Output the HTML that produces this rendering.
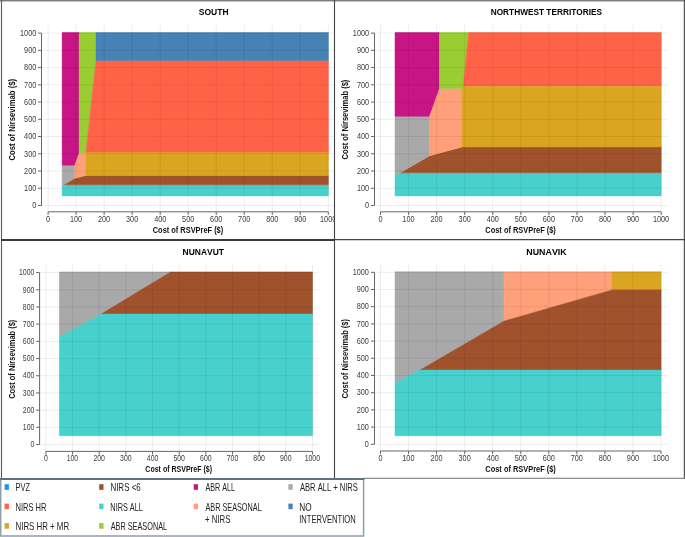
<!DOCTYPE html>
<html><head><meta charset="utf-8"><style>
html,body{margin:0;padding:0;background:#fff;width:685px;height:537px;overflow:hidden}
svg{display:block;filter:blur(0.45px);font-family:"Liberation Sans", sans-serif;font-kerning:none}
</style></head><body>
<svg width="685" height="537" viewBox="0 0 685 537" font-family='"Liberation Sans", sans-serif'>
<rect width="685" height="537" fill="#fff"/>
<defs><clipPath id="c0"><rect x="1.5" y="0.5" width="332.5" height="239.0"/></clipPath><clipPath id="c1"><rect x="335" y="0.5" width="349" height="239.0"/></clipPath><clipPath id="c2"><rect x="1.5" y="240.5" width="332.5" height="237.5"/></clipPath><clipPath id="c3"><rect x="335" y="240.5" width="349" height="237.5"/></clipPath></defs>
<g clip-path="url(#c0)">
<polygon points="62.1,184.8 328.4,184.8 328.4,195.9 62.1,195.9" fill="#48D1CC" stroke="#48D1CC" stroke-width="0.5"/>
<polygon points="63.6,184.8 74.8,178.3 86,175.4 328.4,175.4 328.4,184.8" fill="#A0522D" stroke="#A0522D" stroke-width="0.5"/>
<polygon points="62.1,184.8 63.6,184.8 74.8,178.3 74.8,165.2 62.1,165.2" fill="#A9A9A9" stroke="#A9A9A9" stroke-width="0.5"/>
<polygon points="62.1,32.5 79.2,32.5 79.2,153 74.8,165.2 62.1,165.2" fill="#C71585" stroke="#C71585" stroke-width="0.5"/>
<polygon points="79.2,152.7 86,152.7 86,175.4 74.8,178.3 74.8,165.2 79.2,153" fill="#FFA07A" stroke="#FFA07A" stroke-width="0.5"/>
<polygon points="79.2,32.5 96,32.5 96,60.6 85.9,152.7 79.2,152.7" fill="#9ACD32" stroke="#9ACD32" stroke-width="0.5"/>
<polygon points="96,60.6 328.4,60.6 328.4,152.7 85.9,152.7" fill="#FF6347" stroke="#FF6347" stroke-width="0.5"/>
<polygon points="86,152.7 328.4,152.7 328.4,175.4 86,175.4" fill="#DAA520" stroke="#DAA520" stroke-width="0.5"/>
<polygon points="96,32.5 328.4,32.5 328.4,60.6 96,60.6" fill="#4682B4" stroke="#4682B4" stroke-width="0.5"/>
<path d="M48.1 25V211.8M41.5 205.5H334M76.12 25V211.8M41.5 188.26H334M104.14 25V211.8M41.5 171.02H334M132.16 25V211.8M41.5 153.78H334M160.18 25V211.8M41.5 136.54H334M188.2 25V211.8M41.5 119.3H334M216.22 25V211.8M41.5 102.06H334M244.24 25V211.8M41.5 84.82H334M272.26 25V211.8M41.5 67.58H334M300.28 25V211.8M41.5 50.34H334M328.3 25V211.8M41.5 33.1H334" stroke="rgba(0,0,0,0.07)" stroke-width="1" fill="none"/>
<path d="M41.5 33.1V205.5M48.1 211.8H328.3M38 205.5H41.5M48.1 211.8V215M38 188.26H41.5M76.12 211.8V215M38 171.02H41.5M104.14 211.8V215M38 153.78H41.5M132.16 211.8V215M38 136.54H41.5M160.18 211.8V215M38 119.3H41.5M188.2 211.8V215M38 102.06H41.5M216.22 211.8V215M38 84.82H41.5M244.24 211.8V215M38 67.58H41.5M272.26 211.8V215M38 50.34H41.5M300.28 211.8V215M38 33.1H41.5M328.3 211.8V215" stroke="#666" stroke-width="1" fill="none"/>
<text x="32.22" y="208.23" font-size="8.8" fill="#3d3d3d" textLength="4.06" lengthAdjust="spacingAndGlyphs">0</text>
<text x="46.07" y="222.1" font-size="8.8" fill="#3d3d3d" textLength="4.06" lengthAdjust="spacingAndGlyphs">0</text>
<text x="24.1" y="190.99" font-size="8.8" fill="#3d3d3d" textLength="12.19" lengthAdjust="spacingAndGlyphs">100</text>
<text x="69.89" y="222.1" font-size="8.8" fill="#3d3d3d" textLength="12.19" lengthAdjust="spacingAndGlyphs">100</text>
<text x="24.1" y="173.75" font-size="8.8" fill="#3d3d3d" textLength="12.19" lengthAdjust="spacingAndGlyphs">200</text>
<text x="98.01" y="222.1" font-size="8.8" fill="#3d3d3d" textLength="12.19" lengthAdjust="spacingAndGlyphs">200</text>
<text x="24.1" y="156.51" font-size="8.8" fill="#3d3d3d" textLength="12.19" lengthAdjust="spacingAndGlyphs">300</text>
<text x="126.07" y="222.1" font-size="8.8" fill="#3d3d3d" textLength="12.19" lengthAdjust="spacingAndGlyphs">300</text>
<text x="24.1" y="139.27" font-size="8.8" fill="#3d3d3d" textLength="12.19" lengthAdjust="spacingAndGlyphs">400</text>
<text x="154.15" y="222.1" font-size="8.8" fill="#3d3d3d" textLength="12.19" lengthAdjust="spacingAndGlyphs">400</text>
<text x="24.1" y="122.03" font-size="8.8" fill="#3d3d3d" textLength="12.19" lengthAdjust="spacingAndGlyphs">500</text>
<text x="182.1" y="222.1" font-size="8.8" fill="#3d3d3d" textLength="12.19" lengthAdjust="spacingAndGlyphs">500</text>
<text x="24.1" y="104.79" font-size="8.8" fill="#3d3d3d" textLength="12.19" lengthAdjust="spacingAndGlyphs">600</text>
<text x="210.08" y="222.1" font-size="8.8" fill="#3d3d3d" textLength="12.19" lengthAdjust="spacingAndGlyphs">600</text>
<text x="24.1" y="87.55" font-size="8.8" fill="#3d3d3d" textLength="12.19" lengthAdjust="spacingAndGlyphs">700</text>
<text x="238.1" y="222.1" font-size="8.8" fill="#3d3d3d" textLength="12.19" lengthAdjust="spacingAndGlyphs">700</text>
<text x="24.1" y="70.31" font-size="8.8" fill="#3d3d3d" textLength="12.19" lengthAdjust="spacingAndGlyphs">800</text>
<text x="266.15" y="222.1" font-size="8.8" fill="#3d3d3d" textLength="12.19" lengthAdjust="spacingAndGlyphs">800</text>
<text x="24.1" y="53.07" font-size="8.8" fill="#3d3d3d" textLength="12.19" lengthAdjust="spacingAndGlyphs">900</text>
<text x="294.16" y="222.1" font-size="8.8" fill="#3d3d3d" textLength="12.19" lengthAdjust="spacingAndGlyphs">900</text>
<text x="20.04" y="35.83" font-size="8.8" fill="#3d3d3d" textLength="16.25" lengthAdjust="spacingAndGlyphs">1000</text>
<text x="320.04" y="222.1" font-size="8.8" fill="#3d3d3d" textLength="16.25" lengthAdjust="spacingAndGlyphs">1000</text>
<text x="198.81" y="15.4" font-size="9.4" font-weight="bold" fill="#000" textLength="29.72" lengthAdjust="spacingAndGlyphs">SOUTH</text>
<text x="152.75" y="233" font-size="8.2" font-weight="bold" fill="#111" textLength="70.47" lengthAdjust="spacingAndGlyphs">Cost of RSVPreF ($)</text>
<text transform="translate(15.2 160.15) rotate(-90)" x="-0.31" y="0" font-size="8.2" font-weight="bold" fill="#111" textLength="81.5" lengthAdjust="spacingAndGlyphs">Cost of Nirsevimab ($)</text>
</g>
<g clip-path="url(#c1)">
<polygon points="395,175.1 400.1,172.8 661.2,172.8 661.2,195.9 395,195.9" fill="#48D1CC" stroke="#48D1CC" stroke-width="0.5"/>
<polygon points="400.1,172.8 429.7,155.7 462.1,146.9 661.2,146.9 661.2,172.8" fill="#A0522D" stroke="#A0522D" stroke-width="0.5"/>
<polygon points="395,175.1 400.1,172.8 429.7,155.7 429.7,116.3 395,116.3" fill="#A9A9A9" stroke="#A9A9A9" stroke-width="0.5"/>
<polygon points="395,32.5 439.5,32.5 439.5,88.6 429.7,116.3 395,116.3" fill="#C71585" stroke="#C71585" stroke-width="0.5"/>
<polygon points="439.5,88.6 462.1,88.6 462.1,146.9 429.7,155.7 429.7,116.3" fill="#FFA07A" stroke="#FFA07A" stroke-width="0.5"/>
<polygon points="439.5,32.5 468.8,32.5 463.2,86.5 462.3,88.6 439.5,88.6" fill="#9ACD32" stroke="#9ACD32" stroke-width="0.5"/>
<polygon points="468.8,32.5 661.2,32.5 661.2,86.5 463.2,86.5" fill="#FF6347" stroke="#FF6347" stroke-width="0.5"/>
<polygon points="462.1,86.5 661.2,86.5 661.2,146.9 462.1,146.9" fill="#DAA520" stroke="#DAA520" stroke-width="0.5"/>
<path d="M380.5 25V211.8M374.5 205.5H667.6M408.57 25V211.8M374.5 188.26H667.6M436.64 25V211.8M374.5 171.02H667.6M464.71 25V211.8M374.5 153.78H667.6M492.78 25V211.8M374.5 136.54H667.6M520.85 25V211.8M374.5 119.3H667.6M548.92 25V211.8M374.5 102.06H667.6M576.99 25V211.8M374.5 84.82H667.6M605.06 25V211.8M374.5 67.58H667.6M633.13 25V211.8M374.5 50.34H667.6M661.2 25V211.8M374.5 33.1H667.6" stroke="rgba(0,0,0,0.07)" stroke-width="1" fill="none"/>
<path d="M374.5 33.1V205.5M380.5 211.8H661.2M371 205.5H374.5M380.5 211.8V215M371 188.26H374.5M408.57 211.8V215M371 171.02H374.5M436.64 211.8V215M371 153.78H374.5M464.71 211.8V215M371 136.54H374.5M492.78 211.8V215M371 119.3H374.5M520.85 211.8V215M371 102.06H374.5M548.92 211.8V215M371 84.82H374.5M576.99 211.8V215M371 67.58H374.5M605.06 211.8V215M371 50.34H374.5M633.13 211.8V215M371 33.1H374.5M661.2 211.8V215" stroke="#666" stroke-width="1" fill="none"/>
<text x="365.02" y="208.23" font-size="8.8" fill="#3d3d3d" textLength="4.06" lengthAdjust="spacingAndGlyphs">0</text>
<text x="378.47" y="222.1" font-size="8.8" fill="#3d3d3d" textLength="4.06" lengthAdjust="spacingAndGlyphs">0</text>
<text x="356.9" y="190.99" font-size="8.8" fill="#3d3d3d" textLength="12.19" lengthAdjust="spacingAndGlyphs">100</text>
<text x="402.34" y="222.1" font-size="8.8" fill="#3d3d3d" textLength="12.19" lengthAdjust="spacingAndGlyphs">100</text>
<text x="356.9" y="173.75" font-size="8.8" fill="#3d3d3d" textLength="12.19" lengthAdjust="spacingAndGlyphs">200</text>
<text x="430.51" y="222.1" font-size="8.8" fill="#3d3d3d" textLength="12.19" lengthAdjust="spacingAndGlyphs">200</text>
<text x="356.9" y="156.51" font-size="8.8" fill="#3d3d3d" textLength="12.19" lengthAdjust="spacingAndGlyphs">300</text>
<text x="458.62" y="222.1" font-size="8.8" fill="#3d3d3d" textLength="12.19" lengthAdjust="spacingAndGlyphs">300</text>
<text x="356.9" y="139.27" font-size="8.8" fill="#3d3d3d" textLength="12.19" lengthAdjust="spacingAndGlyphs">400</text>
<text x="486.75" y="222.1" font-size="8.8" fill="#3d3d3d" textLength="12.19" lengthAdjust="spacingAndGlyphs">400</text>
<text x="356.9" y="122.03" font-size="8.8" fill="#3d3d3d" textLength="12.19" lengthAdjust="spacingAndGlyphs">500</text>
<text x="514.75" y="222.1" font-size="8.8" fill="#3d3d3d" textLength="12.19" lengthAdjust="spacingAndGlyphs">500</text>
<text x="356.9" y="104.79" font-size="8.8" fill="#3d3d3d" textLength="12.19" lengthAdjust="spacingAndGlyphs">600</text>
<text x="542.78" y="222.1" font-size="8.8" fill="#3d3d3d" textLength="12.19" lengthAdjust="spacingAndGlyphs">600</text>
<text x="356.9" y="87.55" font-size="8.8" fill="#3d3d3d" textLength="12.19" lengthAdjust="spacingAndGlyphs">700</text>
<text x="570.85" y="222.1" font-size="8.8" fill="#3d3d3d" textLength="12.19" lengthAdjust="spacingAndGlyphs">700</text>
<text x="356.9" y="70.31" font-size="8.8" fill="#3d3d3d" textLength="12.19" lengthAdjust="spacingAndGlyphs">800</text>
<text x="598.95" y="222.1" font-size="8.8" fill="#3d3d3d" textLength="12.19" lengthAdjust="spacingAndGlyphs">800</text>
<text x="356.9" y="53.07" font-size="8.8" fill="#3d3d3d" textLength="12.19" lengthAdjust="spacingAndGlyphs">900</text>
<text x="627.01" y="222.1" font-size="8.8" fill="#3d3d3d" textLength="12.19" lengthAdjust="spacingAndGlyphs">900</text>
<text x="352.84" y="35.83" font-size="8.8" fill="#3d3d3d" textLength="16.25" lengthAdjust="spacingAndGlyphs">1000</text>
<text x="652.94" y="222.1" font-size="8.8" fill="#3d3d3d" textLength="16.25" lengthAdjust="spacingAndGlyphs">1000</text>
<text x="490.7" y="15.4" font-size="9.4" font-weight="bold" fill="#000" textLength="111.38" lengthAdjust="spacingAndGlyphs">NORTHWEST TERRITORIES</text>
<text x="485.35" y="233" font-size="8.2" font-weight="bold" fill="#111" textLength="70.47" lengthAdjust="spacingAndGlyphs">Cost of RSVPreF ($)</text>
<text transform="translate(348 159.25) rotate(-90)" x="-0.31" y="0" font-size="8.2" font-weight="bold" fill="#111" textLength="79.88" lengthAdjust="spacingAndGlyphs">Cost of Nirsevimab ($)</text>
</g>
<g clip-path="url(#c2)">
<polygon points="59.3,271.9 170.6,271.9 101.1,314.1 59.3,337.2" fill="#A9A9A9" stroke="#A9A9A9" stroke-width="0.5"/>
<polygon points="170.6,271.9 312.5,271.9 312.5,314.1 101.1,314.1" fill="#A0522D" stroke="#A0522D" stroke-width="0.5"/>
<polygon points="59.3,337.2 101.1,314.1 312.5,314.1 312.5,435.7 59.3,435.7" fill="#48D1CC" stroke="#48D1CC" stroke-width="0.5"/>
<path d="M45.9 265V451.4M39.6 444.5H318.5M72.56 265V451.4M39.6 427.31H318.5M99.22 265V451.4M39.6 410.12H318.5M125.88 265V451.4M39.6 392.93H318.5M152.54 265V451.4M39.6 375.74H318.5M179.2 265V451.4M39.6 358.55H318.5M205.86 265V451.4M39.6 341.36H318.5M232.52 265V451.4M39.6 324.17H318.5M259.18 265V451.4M39.6 306.98H318.5M285.84 265V451.4M39.6 289.79H318.5M312.5 265V451.4M39.6 272.6H318.5" stroke="rgba(0,0,0,0.07)" stroke-width="1" fill="none"/>
<path d="M39.6 272.6V444.5M45.9 451.4H312.5M36.1 444.5H39.6M45.9 451.4V454.6M36.1 427.31H39.6M72.56 451.4V454.6M36.1 410.12H39.6M99.22 451.4V454.6M36.1 392.93H39.6M125.88 451.4V454.6M36.1 375.74H39.6M152.54 451.4V454.6M36.1 358.55H39.6M179.2 451.4V454.6M36.1 341.36H39.6M205.86 451.4V454.6M36.1 324.17H39.6M232.52 451.4V454.6M36.1 306.98H39.6M259.18 451.4V454.6M36.1 289.79H39.6M285.84 451.4V454.6M36.1 272.6H39.6M312.5 451.4V454.6" stroke="#666" stroke-width="1" fill="none"/>
<text x="30.61" y="447.23" font-size="8.8" fill="#3d3d3d" textLength="3.87" lengthAdjust="spacingAndGlyphs">0</text>
<text x="43.97" y="461.4" font-size="8.8" fill="#3d3d3d" textLength="3.87" lengthAdjust="spacingAndGlyphs">0</text>
<text x="22.87" y="430.04" font-size="8.8" fill="#3d3d3d" textLength="11.6" lengthAdjust="spacingAndGlyphs">100</text>
<text x="66.63" y="461.4" font-size="8.8" fill="#3d3d3d" textLength="11.6" lengthAdjust="spacingAndGlyphs">100</text>
<text x="22.87" y="412.85" font-size="8.8" fill="#3d3d3d" textLength="11.6" lengthAdjust="spacingAndGlyphs">200</text>
<text x="93.38" y="461.4" font-size="8.8" fill="#3d3d3d" textLength="11.6" lengthAdjust="spacingAndGlyphs">200</text>
<text x="22.87" y="395.66" font-size="8.8" fill="#3d3d3d" textLength="11.6" lengthAdjust="spacingAndGlyphs">300</text>
<text x="120.08" y="461.4" font-size="8.8" fill="#3d3d3d" textLength="11.6" lengthAdjust="spacingAndGlyphs">300</text>
<text x="22.87" y="378.47" font-size="8.8" fill="#3d3d3d" textLength="11.6" lengthAdjust="spacingAndGlyphs">400</text>
<text x="146.8" y="461.4" font-size="8.8" fill="#3d3d3d" textLength="11.6" lengthAdjust="spacingAndGlyphs">400</text>
<text x="22.87" y="361.28" font-size="8.8" fill="#3d3d3d" textLength="11.6" lengthAdjust="spacingAndGlyphs">500</text>
<text x="173.4" y="461.4" font-size="8.8" fill="#3d3d3d" textLength="11.6" lengthAdjust="spacingAndGlyphs">500</text>
<text x="22.87" y="344.09" font-size="8.8" fill="#3d3d3d" textLength="11.6" lengthAdjust="spacingAndGlyphs">600</text>
<text x="200.02" y="461.4" font-size="8.8" fill="#3d3d3d" textLength="11.6" lengthAdjust="spacingAndGlyphs">600</text>
<text x="22.87" y="326.9" font-size="8.8" fill="#3d3d3d" textLength="11.6" lengthAdjust="spacingAndGlyphs">700</text>
<text x="226.68" y="461.4" font-size="8.8" fill="#3d3d3d" textLength="11.6" lengthAdjust="spacingAndGlyphs">700</text>
<text x="22.87" y="309.71" font-size="8.8" fill="#3d3d3d" textLength="11.6" lengthAdjust="spacingAndGlyphs">800</text>
<text x="253.37" y="461.4" font-size="8.8" fill="#3d3d3d" textLength="11.6" lengthAdjust="spacingAndGlyphs">800</text>
<text x="22.87" y="292.52" font-size="8.8" fill="#3d3d3d" textLength="11.6" lengthAdjust="spacingAndGlyphs">900</text>
<text x="280.01" y="461.4" font-size="8.8" fill="#3d3d3d" textLength="11.6" lengthAdjust="spacingAndGlyphs">900</text>
<text x="19.01" y="275.33" font-size="8.8" fill="#3d3d3d" textLength="15.47" lengthAdjust="spacingAndGlyphs">1000</text>
<text x="304.64" y="461.4" font-size="8.8" fill="#3d3d3d" textLength="15.47" lengthAdjust="spacingAndGlyphs">1000</text>
<text x="182.58" y="255" font-size="9.4" font-weight="bold" fill="#000" textLength="41.46" lengthAdjust="spacingAndGlyphs">NUNAVUT</text>
<text x="145.36" y="472.2" font-size="8.2" font-weight="bold" fill="#111" textLength="66.64" lengthAdjust="spacingAndGlyphs">Cost of RSVPreF ($)</text>
<text transform="translate(15 398.55) rotate(-90)" x="-0.31" y="0" font-size="8.2" font-weight="bold" fill="#111" textLength="79.18" lengthAdjust="spacingAndGlyphs">Cost of Nirsevimab ($)</text>
</g>
<g clip-path="url(#c3)">
<polygon points="395,271.8 504.1,271.8 504.1,321.1 420,370.1 395,382.9" fill="#A9A9A9" stroke="#A9A9A9" stroke-width="0.5"/>
<polygon points="504.1,271.8 612,271.8 612,290 504.1,321.1" fill="#FFA07A" stroke="#FFA07A" stroke-width="0.5"/>
<polygon points="612,271.8 661.1,271.8 661.1,290 612,290" fill="#DAA520" stroke="#DAA520" stroke-width="0.5"/>
<polygon points="420,370.1 504.1,321.1 612,290 661.1,290 661.1,370.1" fill="#A0522D" stroke="#A0522D" stroke-width="0.5"/>
<polygon points="395,382.9 420,370.1 661.1,370.1 661.1,435.7 395,435.7" fill="#48D1CC" stroke="#48D1CC" stroke-width="0.5"/>
<path d="M380.5 265V451M374.5 444.3H667.6M408.55 265V451M374.5 427.1H667.6M436.6 265V451M374.5 409.9H667.6M464.65 265V451M374.5 392.7H667.6M492.7 265V451M374.5 375.5H667.6M520.75 265V451M374.5 358.3H667.6M548.8 265V451M374.5 341.1H667.6M576.85 265V451M374.5 323.9H667.6M604.9 265V451M374.5 306.7H667.6M632.95 265V451M374.5 289.5H667.6M661 265V451M374.5 272.3H667.6" stroke="rgba(0,0,0,0.07)" stroke-width="1" fill="none"/>
<path d="M374.5 272.3V444.3M380.5 451H661M371 444.3H374.5M380.5 451V454.2M371 427.1H374.5M408.55 451V454.2M371 409.9H374.5M436.6 451V454.2M371 392.7H374.5M464.65 451V454.2M371 375.5H374.5M492.7 451V454.2M371 358.3H374.5M520.75 451V454.2M371 341.1H374.5M548.8 451V454.2M371 323.9H374.5M576.85 451V454.2M371 306.7H374.5M604.9 451V454.2M371 289.5H374.5M632.95 451V454.2M371 272.3H374.5M661 451V454.2" stroke="#666" stroke-width="1" fill="none"/>
<text x="364.82" y="447.03" font-size="8.8" fill="#3d3d3d" textLength="4.06" lengthAdjust="spacingAndGlyphs">0</text>
<text x="378.47" y="461.4" font-size="8.8" fill="#3d3d3d" textLength="4.06" lengthAdjust="spacingAndGlyphs">0</text>
<text x="356.7" y="429.83" font-size="8.8" fill="#3d3d3d" textLength="12.19" lengthAdjust="spacingAndGlyphs">100</text>
<text x="402.32" y="461.4" font-size="8.8" fill="#3d3d3d" textLength="12.19" lengthAdjust="spacingAndGlyphs">100</text>
<text x="356.7" y="412.63" font-size="8.8" fill="#3d3d3d" textLength="12.19" lengthAdjust="spacingAndGlyphs">200</text>
<text x="430.47" y="461.4" font-size="8.8" fill="#3d3d3d" textLength="12.19" lengthAdjust="spacingAndGlyphs">200</text>
<text x="356.7" y="395.43" font-size="8.8" fill="#3d3d3d" textLength="12.19" lengthAdjust="spacingAndGlyphs">300</text>
<text x="458.56" y="461.4" font-size="8.8" fill="#3d3d3d" textLength="12.19" lengthAdjust="spacingAndGlyphs">300</text>
<text x="356.7" y="378.23" font-size="8.8" fill="#3d3d3d" textLength="12.19" lengthAdjust="spacingAndGlyphs">400</text>
<text x="486.67" y="461.4" font-size="8.8" fill="#3d3d3d" textLength="12.19" lengthAdjust="spacingAndGlyphs">400</text>
<text x="356.7" y="361.03" font-size="8.8" fill="#3d3d3d" textLength="12.19" lengthAdjust="spacingAndGlyphs">500</text>
<text x="514.65" y="461.4" font-size="8.8" fill="#3d3d3d" textLength="12.19" lengthAdjust="spacingAndGlyphs">500</text>
<text x="356.7" y="343.83" font-size="8.8" fill="#3d3d3d" textLength="12.19" lengthAdjust="spacingAndGlyphs">600</text>
<text x="542.66" y="461.4" font-size="8.8" fill="#3d3d3d" textLength="12.19" lengthAdjust="spacingAndGlyphs">600</text>
<text x="356.7" y="326.63" font-size="8.8" fill="#3d3d3d" textLength="12.19" lengthAdjust="spacingAndGlyphs">700</text>
<text x="570.71" y="461.4" font-size="8.8" fill="#3d3d3d" textLength="12.19" lengthAdjust="spacingAndGlyphs">700</text>
<text x="356.7" y="309.43" font-size="8.8" fill="#3d3d3d" textLength="12.19" lengthAdjust="spacingAndGlyphs">800</text>
<text x="598.79" y="461.4" font-size="8.8" fill="#3d3d3d" textLength="12.19" lengthAdjust="spacingAndGlyphs">800</text>
<text x="356.7" y="292.23" font-size="8.8" fill="#3d3d3d" textLength="12.19" lengthAdjust="spacingAndGlyphs">900</text>
<text x="626.83" y="461.4" font-size="8.8" fill="#3d3d3d" textLength="12.19" lengthAdjust="spacingAndGlyphs">900</text>
<text x="352.64" y="275.03" font-size="8.8" fill="#3d3d3d" textLength="16.25" lengthAdjust="spacingAndGlyphs">1000</text>
<text x="652.74" y="461.4" font-size="8.8" fill="#3d3d3d" textLength="16.25" lengthAdjust="spacingAndGlyphs">1000</text>
<text x="526.36" y="254.8" font-size="9.4" font-weight="bold" fill="#000" textLength="40.27" lengthAdjust="spacingAndGlyphs">NUNAVIK</text>
<text x="485.35" y="472.1" font-size="8.2" font-weight="bold" fill="#111" textLength="70.47" lengthAdjust="spacingAndGlyphs">Cost of RSVPreF ($)</text>
<text transform="translate(348 398.15) rotate(-90)" x="-0.31" y="0" font-size="8.2" font-weight="bold" fill="#111" textLength="79.48" lengthAdjust="spacingAndGlyphs">Cost of Nirsevimab ($)</text>
</g>
<path d="M0 0.7H685" stroke="#808080" stroke-width="1.4"/>
<path d="M1.5 0V479" stroke="#5a5a5a" stroke-width="1.1"/>
<path d="M684.4 0V479" stroke="#555" stroke-width="1.2"/>
<path d="M334.5 0V479" stroke="#444" stroke-width="1.1"/>
<path d="M1 240H334.5" stroke="#3a3a3a" stroke-width="2"/>
<path d="M334.5 239.7H685" stroke="#444" stroke-width="1.3"/>
<path d="M363.8 478.3H685" stroke="#707070" stroke-width="1.1"/>
<path d="M363.6 479V536H0.7V479" stroke="#8f9fa9" stroke-width="1.5" fill="none"/>
<path d="M0 478.9H364.3" stroke="#62727b" stroke-width="2"/>
<rect x="4.6" y="484.2" width="4.3" height="5.6" fill="#1E90FF"/>
<text x="15.54" y="491" font-size="10.4" fill="#222" textLength="14.44" lengthAdjust="spacingAndGlyphs">PVZ</text>
<rect x="4.6" y="503.6" width="4.3" height="5.6" fill="#FF6347"/>
<text x="15.53" y="510.9" font-size="10.4" fill="#222" textLength="30.97" lengthAdjust="spacingAndGlyphs">NIRS HR</text>
<rect x="4.6" y="523.1" width="4.3" height="5.6" fill="#DAA520"/>
<text x="15.5" y="530.1" font-size="10.4" fill="#222" textLength="53.61" lengthAdjust="spacingAndGlyphs">NIRS HR + MR</text>
<rect x="99.2" y="484.2" width="4.3" height="5.6" fill="#A0522D"/>
<text x="110.39" y="491" font-size="10.4" fill="#222" textLength="30.41" lengthAdjust="spacingAndGlyphs">NIRS &lt;6</text>
<rect x="99.2" y="503.6" width="4.3" height="5.6" fill="#48D1CC"/>
<text x="110.35" y="510.9" font-size="10.4" fill="#222" textLength="32.54" lengthAdjust="spacingAndGlyphs">NIRS ALL</text>
<rect x="99.2" y="523.1" width="4.3" height="5.6" fill="#9ACD32"/>
<text x="110.64" y="530.1" font-size="10.4" fill="#222" textLength="56.56" lengthAdjust="spacingAndGlyphs">ABR SEASONAL</text>
<rect x="193.7" y="484.2" width="4.3" height="5.6" fill="#C71585"/>
<text x="205.44" y="491" font-size="10.4" fill="#222" textLength="29.65" lengthAdjust="spacingAndGlyphs">ABR ALL</text>
<rect x="193.7" y="503.6" width="4.3" height="5.6" fill="#FFA07A"/>
<text x="205.44" y="510.9" font-size="10.4" fill="#222" textLength="56.26" lengthAdjust="spacingAndGlyphs">ABR SEASONAL</text>
<text x="205.07" y="522.9" font-size="10.4" fill="#222" textLength="25.34" lengthAdjust="spacingAndGlyphs">+ NIRS</text>
<rect x="288.4" y="484.2" width="4.3" height="5.6" fill="#A9A9A9"/>
<text x="299.94" y="491" font-size="10.4" fill="#222" textLength="57.96" lengthAdjust="spacingAndGlyphs">ABR ALL + NIRS</text>
<rect x="288.4" y="503.6" width="4.3" height="5.6" fill="#4682B4"/>
<text x="299.27" y="510.9" font-size="10.4" fill="#222" textLength="12.37" lengthAdjust="spacingAndGlyphs">NO</text>
<text x="299.25" y="522.9" font-size="10.4" fill="#222" textLength="56.42" lengthAdjust="spacingAndGlyphs">INTERVENTION</text>
</svg>
</body></html>
